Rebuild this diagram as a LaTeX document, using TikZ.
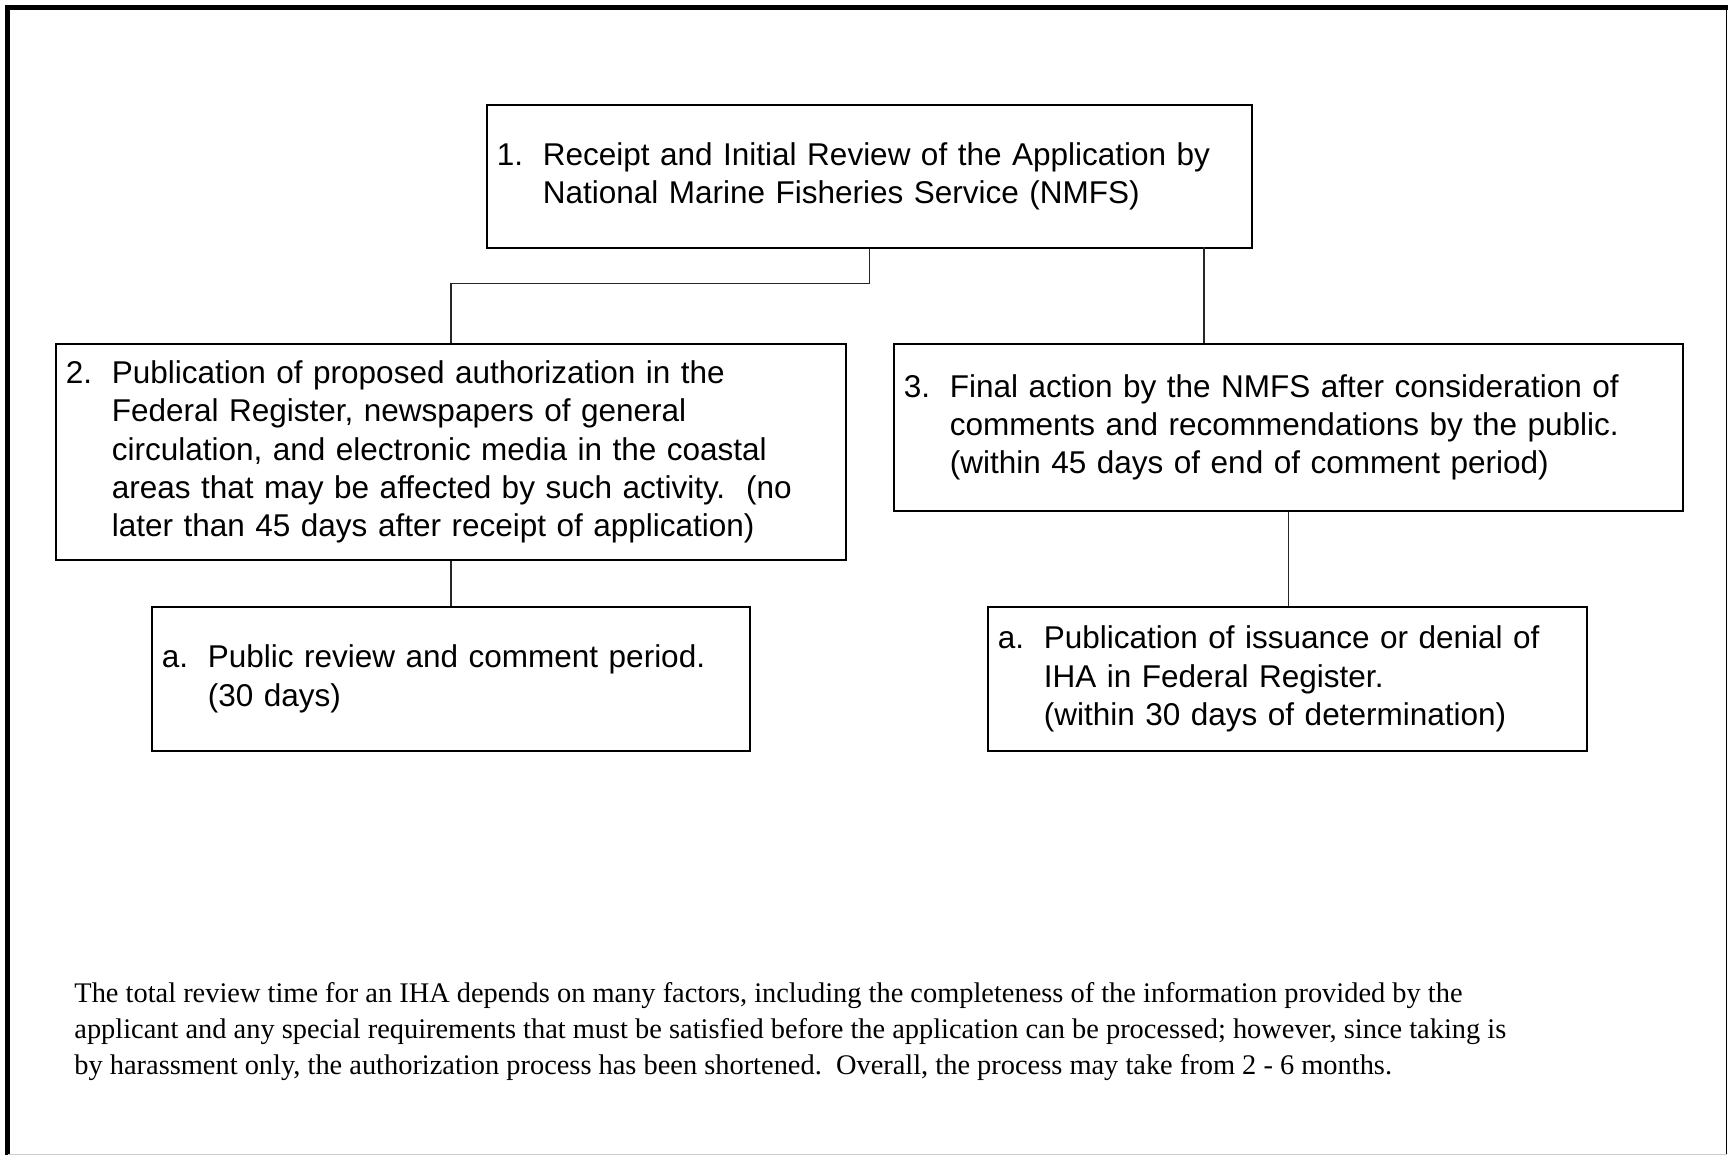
\documentclass[tikz,border=0pt]{standalone}
\usepackage{fontspec}
\setmainfont{Liberation Serif}
\newfontfamily\arialfont{Liberation Sans}
\usetikzlibrary{calc}

\newcommand{\numitem}[1]{\hangindent=23pt\hangafter=1\noindent\makebox[23pt][l]{#1}}

\tikzset{
    stepbox/.style={draw, line width=0.9pt, anchor=north west, inner xsep=5pt, inner ysep=0pt,
        align=left, font=\arialfont\fontsize{15.75}{19.2}\selectfont},
    link/.style={draw=black!85, line width=0.6pt}
}

\begin{document}
\begin{tikzpicture}[x=0.5pt, y=-0.5pt]
    \useasboundingbox (0,0) rectangle (1728,1155);

    % Frame
    \draw[line width=2.5pt] (7.5,1155) -- (7.5,7.5) -- (1728,7.5);
    \draw[line width=0.5pt] (1726.5,7.5) -- (1726.5,1155);
    \draw[black!20, line width=0.5pt] (7.5,1154) -- (1726.5,1154);

    % Steps
    \node[stepbox, text width=372.5pt, minimum height=71.5pt] (review) at (486,104)
        {\numitem{1.}Receipt and Initial Review of the Application by\newline
         National Marine Fisheries Service (NMFS)\par};
    \node[stepbox, text width=385pt, minimum height=108pt] (publish) at (55,343)
        {\numitem{2.}Publication of proposed authorization in the\newline
         Federal Register, newspapers of general\newline
         circulation, and electronic media in the coastal\newline
         areas that may be affected by such activity.\ \ (no\newline
         later than 45 days after receipt of application)\par};
    \node[stepbox, text width=384.5pt, minimum height=83.5pt] (final) at (893,343)
        {\numitem{3.}Final action by the NMFS after consideration of\newline
         comments and recommendations by the public.\newline
         (within 45 days of end of comment period)\par};

    % Sub-steps
    \node[stepbox, text width=289pt, minimum height=72pt] (comment) at (151,606)
        {\numitem{a.}Public review and comment period.\newline
         (30 days)\par};
    \node[stepbox, text width=289.5pt, minimum height=72pt] (notice) at (987,606)
        {\numitem{a.}Publication of issuance or denial of\newline
         IHA in Federal Register.\newline
         (within 30 days of determination)\par};

    % Connectors
    \coordinate (split) at ($(review.south)+(0,35)$);
    \coordinate (branch) at (1204,247);
    \draw[link] (review.south) -- (split) -| (publish.north);
    \draw[link] (branch) -- (branch |- final.north);
    \draw[link] (publish.south) -- (comment.north);
    \draw[link] (final.south) -- (final.south |- notice.north);

    % Note
    \node[anchor=base west, align=left, inner sep=0pt, font=\fontsize{14.2}{17.9}\selectfont] (summary) at (74,1074)
        {The total review time for an IHA depends on many factors, including the completeness of the information provided by the\\
         applicant and any special requirements that must be satisfied before the application can be processed; however, since taking is\\
         by harassment only, the authorization process has been shortened.\ \ Overall, the process may take from 2 - 6 months.};
\end{tikzpicture}
\end{document}
